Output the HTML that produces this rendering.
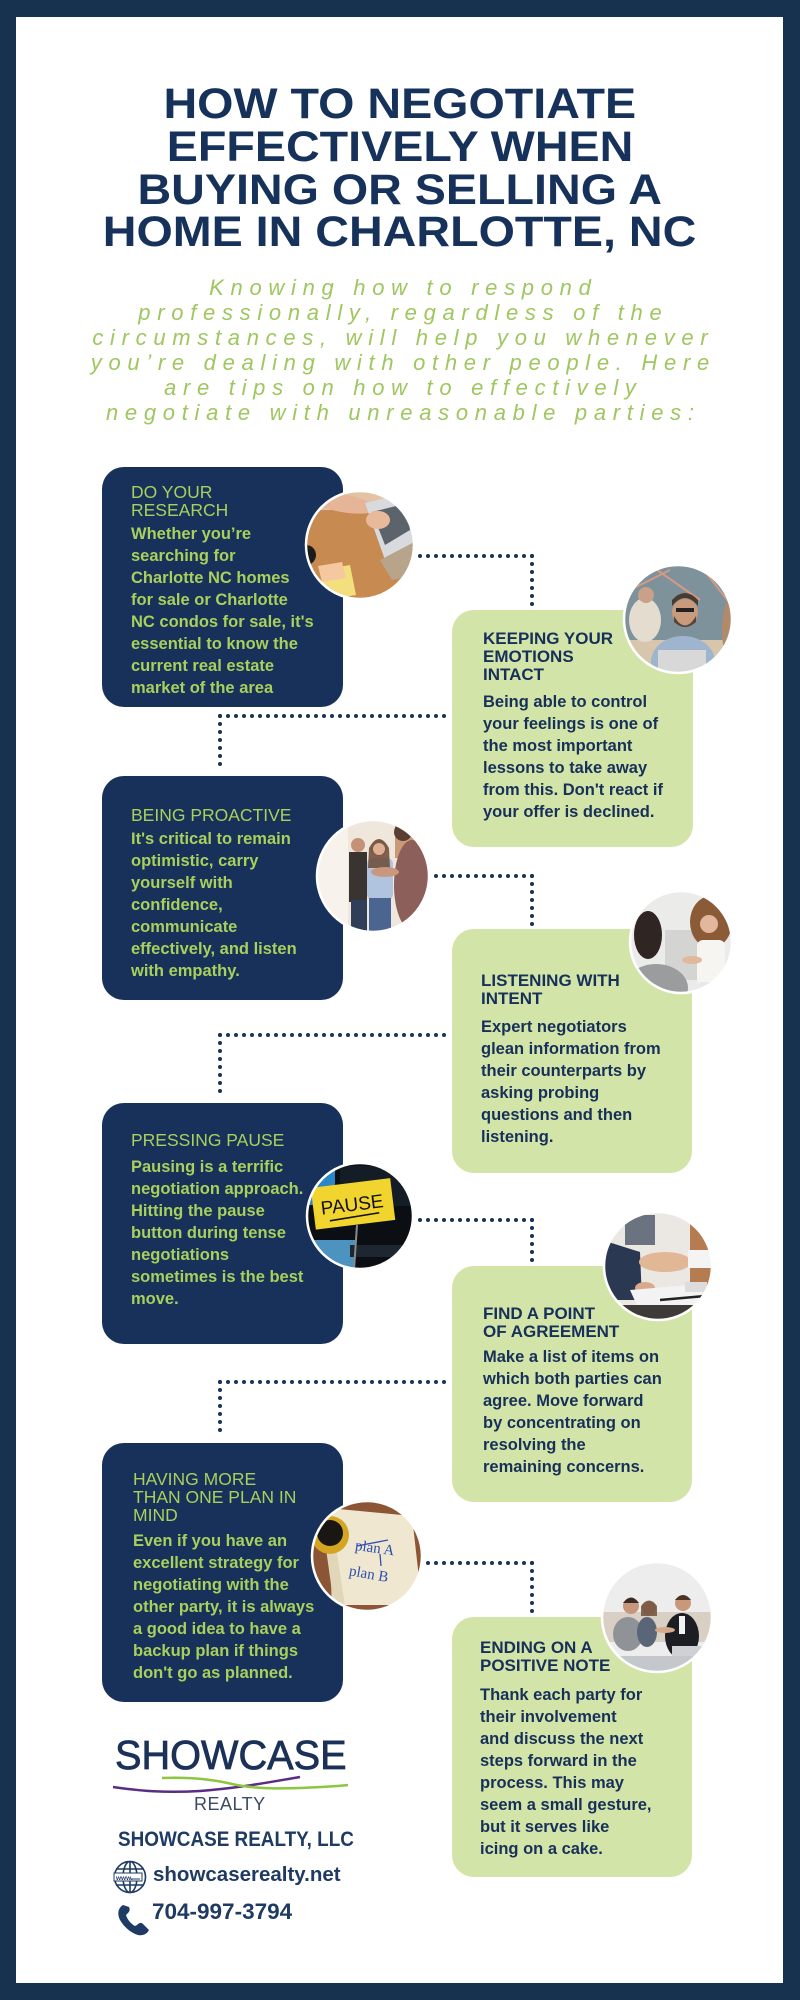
<!DOCTYPE html>
<html>
<head>
<meta charset="utf-8">
<style>
  html,body{margin:0;padding:0;background:#fff;}
  #wrap{position:relative;width:800px;height:2000px;overflow:hidden;background:#fff;font-family:"Liberation Sans",Arial,sans-serif;}
  .frame{position:absolute;left:0;top:0;width:800px;height:2000px;box-sizing:border-box;border:17px solid #17324f;border-left-width:16px;}
  .t{position:absolute;white-space:nowrap;}
  .title{left:0;width:800px;text-align:center;font-weight:bold;font-size:43px;line-height:43px;color:#17325a;}
  .title span{display:inline-block;transform:scaleX(1.085);transform-origin:center;}
  .sub{left:0;width:800px;text-align:center;font-style:italic;font-size:22px;line-height:25px;letter-spacing:6.7px;padding-left:6.7px;box-sizing:border-box;color:#9fc65f;}
  .card{position:absolute;border-radius:22px;}
  .navy{background:#17315a;}
  .green{background:#d3e4a8;}
  .ht{font-size:17.5px;line-height:18px;color:#a9cf5c;}
  .gt{font-size:17px;line-height:18px;color:#17305a;font-weight:bold;}
  .hb{font-size:16.5px;line-height:22px;color:#a9cf5c;font-weight:bold;}
  .gb{font-size:16.5px;line-height:22px;color:#17305a;font-weight:bold;}
  svg.ov{position:absolute;left:0;top:0;}
</style>
</head>
<body>
<div id="wrap">
  <div class="frame"></div>

  <!-- Title -->
  <div class="t title" style="top:82.6px;"><span>HOW TO NEGOTIATE</span></div>
  <div class="t title" style="top:125.6px;"><span>EFFECTIVELY WHEN</span></div>
  <div class="t title" style="top:168.6px;"><span>BUYING OR SELLING A</span></div>
  <div class="t title" style="top:210.6px;"><span>HOME IN CHARLOTTE, NC</span></div>

  <!-- Subtitle -->
  <div class="t sub" style="top:274.9px;">Knowing how to respond<br>professionally, regardless of the<br>circumstances, will help you whenever<br>you’re dealing with other people. Here<br>are tips on how to effectively<br>negotiate with unreasonable parties:</div>

  <!-- Cards -->
  <div class="card navy" style="left:102px;top:467px;width:241px;height:240px;"></div>
  <div class="card green" style="left:452px;top:610px;width:241px;height:237px;"></div>
  <div class="card navy" style="left:102px;top:776px;width:241px;height:224px;"></div>
  <div class="card green" style="left:452px;top:929px;width:240px;height:244px;"></div>
  <div class="card navy" style="left:102px;top:1103px;width:241px;height:241px;"></div>
  <div class="card green" style="left:452px;top:1266px;width:240px;height:236px;"></div>
  <div class="card navy" style="left:102px;top:1443px;width:241px;height:259px;"></div>
  <div class="card green" style="left:452px;top:1617px;width:240px;height:260px;"></div>

  <!-- Overlay SVG: connectors, photos, logo graphics -->
  <svg class="ov" width="800" height="2000" viewBox="0 0 800 2000" xmlns="http://www.w3.org/2000/svg">
    <defs>
      <clipPath id="c1"><circle cx="360" cy="545" r="54"/></clipPath>
      <clipPath id="c2"><circle cx="678" cy="619" r="54"/></clipPath>
      <clipPath id="c3"><circle cx="373" cy="876" r="56"/></clipPath>
      <clipPath id="c4"><circle cx="681" cy="942" r="51"/></clipPath>
      <clipPath id="c5"><circle cx="360" cy="1216" r="53"/></clipPath>
      <clipPath id="c6"><circle cx="658" cy="1266" r="54"/></clipPath>
      <clipPath id="c7"><circle cx="367" cy="1556" r="55"/></clipPath>
      <clipPath id="c8"><circle cx="657" cy="1617" r="55"/></clipPath>
    </defs>

    <!-- connectors -->
    <g stroke="#1a3358" stroke-width="4" stroke-linecap="round" stroke-dasharray="0 8" fill="none">
      <path d="M532,556 H419"/><path d="M532,556 V605"/>
      <path d="M220,716 H446"/><path d="M220,716 V772"/>
      <path d="M532,876 H435"/><path d="M532,876 V925"/>
      <path d="M220,1035 H446"/><path d="M220,1035 V1098"/>
      <path d="M532,1220 H419"/><path d="M532,1220 V1268"/>
      <path d="M220,1382 H446"/><path d="M220,1382 V1438"/>
      <path d="M532,1563 H427"/><path d="M532,1563 V1612"/>
    </g>

    <!-- Photo 1: laptop on wood -->
    <g clip-path="url(#c1)">
      <rect x="300" y="485" width="120" height="120" fill="#c78a50"/>
      <rect x="300" y="485" width="120" height="25" fill="#e2c3a6"/>
      <ellipse cx="342" cy="503" rx="34" ry="9" fill="#e6b497" transform="rotate(10 342 503)"/>
      <polygon points="365,503 418,490 418,540 385,560" fill="#d8dade"/>
      <polygon points="372,512 408,503 410,530 385,545" fill="#5d636b"/>
      <ellipse cx="378" cy="520" rx="12" ry="9" fill="#e9b99b"/>
      <polygon points="380,560 418,540 418,575 392,580" fill="#b8a48a"/>
      <polygon points="320,570 350,565 356,595 326,600" fill="#f3df7e"/>
      <polygon points="318,566 342,562 346,578 322,582" fill="#f6c8a0"/>
      <circle cx="306" cy="555" r="10" fill="#1b1b1b"/>
    </g>
    <circle cx="360" cy="545" r="54" fill="none" stroke="#fff" stroke-width="2.5"/>

    <!-- Photo 2: man at laptop -->
    <g clip-path="url(#c2)">
      <rect x="620" y="560" width="120" height="120" fill="#7e929b"/>
      <path d="M650,565 L700,600 M700,565 L735,610 M630,590 L670,570" stroke="#d49a84" stroke-width="2"/>
      <rect x="620" y="640" width="120" height="40" fill="#d8c6ac"/>
      <ellipse cx="645" cy="620" rx="16" ry="22" fill="#e5dcd0"/>
      <circle cx="646" cy="595" r="8" fill="#c9a088"/>
      <ellipse cx="683" cy="662" rx="32" ry="26" fill="#9fb4cf"/>
      <circle cx="685" cy="612" r="13" fill="#c99a7c"/>
      <path d="M672,606 Q685,590 698,606 L698,600 Q685,586 672,600 Z" fill="#4a3b30"/>
      <path d="M674,616 Q685,635 696,616 L696,622 Q685,632 674,622 Z" fill="#5a4334"/>
      <rect x="676" y="608" width="18" height="4" fill="#222"/>
      <rect x="658" y="650" width="48" height="25" fill="#d8d8d8"/>
      <ellipse cx="730" cy="630" rx="8" ry="30" fill="#b08a6a"/>
    </g>
    <circle cx="678" cy="619" r="54" fill="none" stroke="#fff" stroke-width="2.5"/>

    <!-- Photo 3: people at door -->
    <g clip-path="url(#c3)">
      <rect x="315" y="818" width="118" height="118" fill="#efe7dc"/>
      <rect x="318" y="820" width="30" height="115" fill="#f7f3ec"/>
      <rect x="395" y="818" width="40" height="40" fill="#c99a78"/>
      <rect x="349" y="852" width="18" height="50" fill="#3a3430"/>
      <circle cx="358" cy="845" r="7" fill="#c49278"/>
      <rect x="351" y="900" width="16" height="36" fill="#2f3f5a"/>
      <rect x="367" y="858" width="26" height="42" rx="6" fill="#b0c4e0"/>
      <circle cx="379" cy="848" r="8" fill="#d8a88c"/>
      <path d="M369,848 Q379,830 389,848 L390,868 L368,868 Z" fill="#6b4a35" opacity="0.85"/>
      <circle cx="379" cy="849" r="6" fill="#e0b095"/>
      <rect x="369" y="898" width="22" height="38" fill="#4a6590"/>
      <ellipse cx="412" cy="885" rx="18" ry="45" fill="#8d5f5a"/>
      <circle cx="403" cy="832" r="9" fill="#5a3e33"/>
      <ellipse cx="385" cy="872" rx="14" ry="5" fill="#c9977e"/>
    </g>
    <circle cx="373" cy="876" r="56" fill="none" stroke="#fff" stroke-width="2.5"/>

    <!-- Photo 4: two women talking -->
    <g clip-path="url(#c4)">
      <rect x="628" y="890" width="106" height="106" fill="#ebebe9"/>
      <rect x="665" y="930" width="50" height="50" fill="#d4d4d2"/>
      <ellipse cx="648" cy="935" rx="14" ry="24" fill="#2f2624"/>
      <ellipse cx="656" cy="988" rx="32" ry="24" fill="#9b9c9e"/>
      <ellipse cx="711" cy="922" rx="21" ry="26" fill="#8b5b38"/>
      <circle cx="709" cy="924" r="9" fill="#e2b79c"/>
      <rect x="697" y="940" width="28" height="45" rx="6" fill="#f7f5f2"/>
      <ellipse cx="692" cy="960" rx="10" ry="4" fill="#e2b79c"/>
      <rect x="700" y="982" width="24" height="6" fill="#e8e8e8"/>
    </g>
    <circle cx="681" cy="942" r="51" fill="none" stroke="#fff" stroke-width="2.5"/>

    <!-- Photo 5: PAUSE note -->
    <g clip-path="url(#c5)">
      <rect x="305" y="1160" width="112" height="112" fill="#0b0f14"/>
      <rect x="305" y="1160" width="30" height="45" fill="#2a86c8"/>
      <rect x="340" y="1166" width="70" height="40" fill="#141c25"/>
      <rect x="305" y="1240" width="50" height="30" fill="#4d93bf"/>
      <rect x="350" y="1245" width="60" height="12" fill="#1d2631"/>
      <line x1="357" y1="1225" x2="354" y2="1270" stroke="#8a8a8a" stroke-width="2"/>
      <g transform="rotate(-7 352 1204)">
        <rect x="313" y="1183" width="80" height="42" fill="#f2d42f"/>
        <text x="352" y="1211" text-anchor="middle" font-family="Liberation Sans, sans-serif" font-size="19" fill="#111">PAUSE</text>
        <line x1="328" y1="1218" x2="378" y2="1216" stroke="#111" stroke-width="1.6"/>
      </g>
    </g>
    <circle cx="360" cy="1216" r="53" fill="none" stroke="#fff" stroke-width="2.5"/>

    <!-- Photo 6: handshake -->
    <g clip-path="url(#c6)">
      <rect x="602" y="1210" width="112" height="112" fill="#ebe8e4"/>
      <rect x="690" y="1210" width="24" height="80" fill="#b57c52"/>
      <rect x="625" y="1215" width="30" height="30" fill="#6b7280"/>
      <polygon points="602,1240 640,1252 642,1300 602,1300" fill="#2b3852"/>
      <ellipse cx="665" cy="1262" rx="26" ry="10" fill="#e2b795"/>
      <ellipse cx="645" cy="1288" rx="10" ry="6" fill="#d9a98a"/>
      <rect x="688" y="1250" width="26" height="18" fill="#f4f4f4"/>
      <polygon points="630,1290 700,1284 712,1305 640,1312" fill="#f3f3f3"/>
      <rect x="602" y="1305" width="112" height="20" fill="#3e3a38"/>
      <line x1="660" y1="1300" x2="705" y2="1296" stroke="#222" stroke-width="2.5"/>
      <rect x="685" y="1282" width="22" height="10" fill="#dcdcdc"/>
    </g>
    <circle cx="658" cy="1266" r="54" fill="none" stroke="#fff" stroke-width="2.5"/>

    <!-- Photo 7: plan A / plan B -->
    <g clip-path="url(#c7)">
      <rect x="310" y="1499" width="115" height="115" fill="#8c5636"/>
      <polygon points="328,1508 412,1516 422,1605 332,1605" fill="#efe7cf"/>
      <polygon points="322,1520 330,1508 345,1606 334,1606" fill="#e1d6b8"/>
      <circle cx="330" cy="1535" r="19" fill="#d4a522"/>
      <circle cx="330" cy="1533" r="13" fill="#1a1613"/>
      <text x="355" y="1552" font-family="Liberation Serif, serif" font-size="15" fill="#2d4fb0" transform="rotate(8 370 1548)">plan A</text>
      <line x1="357" y1="1546" x2="388" y2="1540" stroke="#2d4fb0" stroke-width="1.3"/>
      <line x1="380" y1="1554" x2="381" y2="1566" stroke="#2d4fb0" stroke-width="1.3"/>
      <text x="349" y="1578" font-family="Liberation Serif, serif" font-size="15" fill="#2d4fb0" transform="rotate(10 365 1574)">plan B</text>
    </g>
    <circle cx="367" cy="1556" r="55" fill="none" stroke="#fff" stroke-width="2.5"/>

    <!-- Photo 8: meeting on sofa -->
    <g clip-path="url(#c8)">
      <rect x="600" y="1560" width="115" height="115" fill="#ededed"/>
      <rect x="600" y="1612" width="115" height="30" fill="#d8d0c4"/>
      <ellipse cx="628" cy="1634" rx="15" ry="17" fill="#8f9398"/>
      <circle cx="631" cy="1606" r="8" fill="#c8967a"/>
      <path d="M623,1603 Q631,1592 639,1603 Z" fill="#3a2c24"/>
      <ellipse cx="647" cy="1632" rx="10" ry="15" fill="#5a6578"/>
      <circle cx="649" cy="1608" r="7" fill="#d3a287"/>
      <path d="M641,1606 Q649,1595 657,1606 L657,1616 L641,1616 Z" fill="#6b4a35" opacity="0.8"/>
      <ellipse cx="682" cy="1636" rx="17" ry="23" fill="#1d1e24"/>
      <rect x="679" y="1616" width="6" height="18" fill="#f2f2f2"/>
      <circle cx="683" cy="1603" r="8" fill="#c9977a"/>
      <path d="M675,1600 Q683,1590 691,1600 Z" fill="#4a3426"/>
      <ellipse cx="665" cy="1630" rx="10" ry="3" fill="#d8a88a"/>
      <rect x="672" y="1646" width="30" height="14" fill="#cfd1d4"/>
      <rect x="600" y="1656" width="115" height="20" fill="#c4c8cc"/>
    </g>
    <circle cx="657" cy="1617" r="55" fill="none" stroke="#fff" stroke-width="2.5"/>

    <!-- Logo swooshes -->
    <path d="M113,1787 C140,1791 165,1793 200,1791 C240,1788 270,1782 300,1777" stroke="#5b2c83" stroke-width="2.5" fill="none"/>
    <path d="M162,1778 C195,1777 215,1780 232,1784 C250,1788 270,1789 300,1788 C325,1787 340,1786 348,1785" stroke="#8cc63f" stroke-width="2.5" fill="none"/>

    <!-- Globe icon -->
    <g stroke="#1f3a63" stroke-width="1.6" fill="none">
      <circle cx="130" cy="1877" r="15.5"/>
      <ellipse cx="130" cy="1877" rx="7" ry="15.5"/>
      <line x1="130" y1="1861.5" x2="130" y2="1892.5"/>
      <line x1="116" y1="1869" x2="144" y2="1869"/>
      <line x1="116" y1="1885" x2="144" y2="1885"/>
    </g>
    <rect x="114" y="1873" width="28" height="8" fill="#fff" stroke="#1f3a63" stroke-width="1"/>
    <text x="116" y="1880" font-family="Liberation Sans, sans-serif" font-size="6.5" font-weight="bold" fill="#1f3a63">www.</text>
    <line x1="131" y1="1879" x2="140" y2="1879" stroke="#1f3a63" stroke-width="1"/>

    <!-- Phone icon -->
    <path d="M123,1905 C118,1908 117,1914 120,1920 C124,1927 131,1933 138,1935 C143,1936 147,1934 149,1930 L143,1924 C141,1922 139,1923 137,1925 L135,1926 C131,1924 127,1919 126,1915 L128,1913 C130,1911 130,1909 129,1907 Z" fill="#1f3a63"/>
  </svg>

  <!-- Card texts -->
  <div class="t ht" style="left:131px;top:483px;">DO YOUR<br>RESEARCH</div>
  <div class="t hb" style="left:131px;top:523.3px;">Whether you’re<br>searching for<br>Charlotte NC homes<br>for sale or Charlotte<br>NC condos for sale, it's<br>essential to know the<br>current real estate<br>market of the area</div>

  <div class="t gt" style="left:483px;top:630.1px;">KEEPING YOUR<br>EMOTIONS<br>INTACT</div>
  <div class="t gb" style="left:483px;top:691.3px;">Being able to control<br>your feelings is one of<br>the most important<br>lessons to take away<br>from this. Don't react if<br>your offer is declined.</div>

  <div class="t ht" style="left:131px;top:806px;">BEING PROACTIVE</div>
  <div class="t hb" style="left:131px;top:828.3px;">It's critical to remain<br>optimistic, carry<br>yourself with<br>confidence,<br>communicate<br>effectively, and listen<br>with empathy.</div>

  <div class="t gt" style="left:481px;top:972.1px;">LISTENING WITH<br>INTENT</div>
  <div class="t gb" style="left:481px;top:1016.3px;">Expert negotiators<br>glean information from<br>their counterparts by<br>asking probing<br>questions and then<br>listening.</div>

  <div class="t ht" style="left:131px;top:1131px;">PRESSING PAUSE</div>
  <div class="t hb" style="left:131px;top:1156.3px;">Pausing is a terrific<br>negotiation approach.<br>Hitting the pause<br>button during tense<br>negotiations<br>sometimes is the best<br>move.</div>

  <div class="t gt" style="left:483px;top:1305.1px;">FIND A POINT<br>OF AGREEMENT</div>
  <div class="t gb" style="left:483px;top:1346.3px;">Make a list of items on<br>which both parties can<br>agree. Move forward<br>by concentrating on<br>resolving the<br>remaining concerns.</div>

  <div class="t ht" style="left:133px;top:1470px;">HAVING MORE<br>THAN ONE PLAN IN<br>MIND</div>
  <div class="t hb" style="left:133px;top:1530.3px;">Even if you have an<br>excellent strategy for<br>negotiating with the<br>other party, it is always<br>a good idea to have a<br>backup plan if things<br>don't go as planned.</div>

  <div class="t gt" style="left:480px;top:1639.1px;">ENDING ON A<br>POSITIVE NOTE</div>
  <div class="t gb" style="left:480px;top:1684.3px;">Thank each party for<br>their involvement<br>and discuss the next<br>steps forward in the<br>process. This may<br>seem a small gesture,<br>but it serves like<br>icing on a cake.</div>

  <!-- Footer / logo -->
  <div class="t" style="left:115px;top:1734.5px;font-size:40.5px;line-height:41px;color:#1b3158;-webkit-text-stroke:0.8px #1b3158;transform:scaleX(0.98);transform-origin:left;">SHOWCASE</div>
  <div class="t" style="left:194px;top:1794.8px;font-size:18px;line-height:18px;letter-spacing:0.5px;color:#3d4a63;">REALTY</div>
  <div class="t" style="left:118px;top:1829.2px;font-size:21px;line-height:21px;font-weight:bold;color:#1f3a63;transform:scaleX(0.9);transform-origin:left;">SHOWCASE REALTY, LLC</div>
  <div class="t" style="left:153px;top:1864.4px;font-size:20.5px;line-height:21px;font-weight:bold;color:#1f3a63;">showcaserealty.net</div>
  <div class="t" style="left:152px;top:1901.2px;font-size:22.5px;line-height:22px;font-weight:bold;color:#1f3a63;">704-997-3794</div>
</div>
</body>
</html>
